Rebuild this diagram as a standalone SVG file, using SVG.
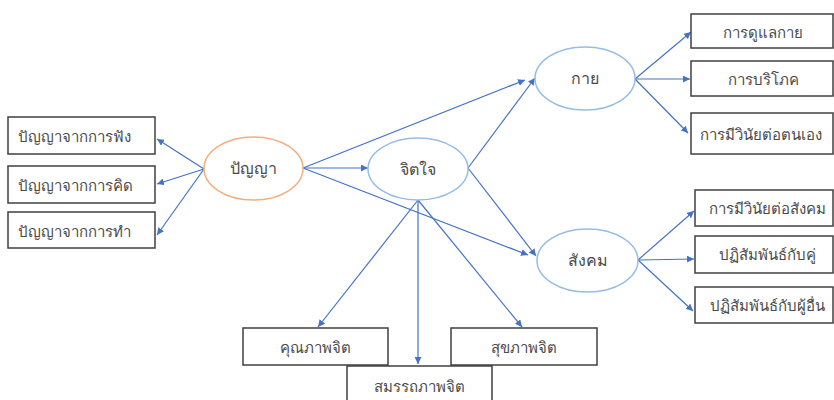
<svg xmlns="http://www.w3.org/2000/svg" width="834" height="400" viewBox="0 0 834 400">
<defs>
<marker id="ah" viewBox="0 0 10 10" refX="10" refY="5" markerWidth="7" markerHeight="7" orient="auto" markerUnits="userSpaceOnUse">
<path d="M0,0 L10,5 L0,10 z" fill="#4472C4"/>
</marker>
</defs>
<style>
text{font-family:"Noto Sans","DejaVu Sans",sans-serif;font-size:15px;fill:#4a4a4a}
.box rect{fill:#fff;stroke:#404040;stroke-width:1.5}
.ob ellipse{fill:#fff;stroke:#95BDE6;stroke-width:1.5}
.oo ellipse{fill:#fff;stroke:#F4AE7C;stroke-width:1.5}
.ob text,.oo text{font-size:16px}
.c{text-anchor:middle}
#conn line{stroke:#4472C4;stroke-width:1.2;marker-end:url(#ah)}
</style>
<rect width="834" height="400" fill="#fff"/>
<g id="conn">
<line x1="204" y1="169" x2="157" y2="139"/>
<line x1="204" y1="169" x2="157" y2="184"/>
<line x1="204" y1="169" x2="157" y2="235"/>
<line x1="303" y1="168" x2="368" y2="168"/>
<line x1="303" y1="168" x2="525" y2="80"/>
<line x1="303" y1="168" x2="528" y2="255"/>
<line x1="468" y1="168" x2="535" y2="78"/>
<line x1="468" y1="168" x2="536" y2="256"/>
<line x1="418" y1="200" x2="318" y2="327"/>
<line x1="418" y1="200" x2="418" y2="364"/>
<line x1="418" y1="200" x2="522" y2="327"/>
<line x1="635" y1="79" x2="691" y2="32"/>
<line x1="635" y1="79" x2="690" y2="79"/>
<line x1="635" y1="79" x2="688" y2="133"/>
<line x1="638" y1="260" x2="694" y2="211"/>
<line x1="638" y1="260" x2="694" y2="259"/>
<line x1="638" y1="260" x2="693" y2="311"/>
</g>
<g id="n-panya" class="oo"><ellipse cx="253.5" cy="168.5" rx="49.5" ry="31.5"/><text class="c" x="253.5" y="174">ปัญญา</text></g>
<g id="n-jitjai" class="ob"><ellipse cx="418" cy="169" rx="50" ry="31"/><text class="c" x="418" y="175">จิตใจ</text></g>
<g id="n-kai" class="ob"><ellipse cx="585" cy="78.5" rx="50" ry="31.5"/><text class="c" x="585" y="84">กาย</text></g>
<g id="n-sangkhom" class="ob"><ellipse cx="587.5" cy="260.5" rx="50.5" ry="31.5"/><text class="c" x="587.5" y="266">สังคม</text></g>
<g id="b-fang" class="box"><rect x="8" y="117" width="147" height="37"/><text x="18" y="142">ปัญญาจากการฟัง</text></g>
<g id="b-khit" class="box"><rect x="8" y="166" width="147" height="37"/><text x="18" y="191">ปัญญาจากการคิด</text></g>
<g id="b-tham" class="box"><rect x="8" y="212" width="147" height="36"/><text x="18" y="237">ปัญญาจากการทำ</text></g>
<g id="b-dulae" class="box"><rect x="691" y="14" width="142" height="34"/><text class="c" x="763" y="38">การดูแลกาย</text></g>
<g id="b-boriphok" class="box"><rect x="691" y="61" width="142" height="35"/><text class="c" x="763" y="85">การบริโภค</text></g>
<g id="b-winai-ton" class="box"><rect x="691" y="113" width="142" height="41"/><text x="700" y="140">การมีวินัยต่อตนเอง</text></g>
<g id="b-winai-sangkhom" class="box"><rect x="695" y="190" width="138" height="36"/><text class="c" x="767" y="214">การมีวินัยต่อสังคม</text></g>
<g id="b-khu" class="box"><rect x="695" y="236" width="138" height="37"/><text class="c" x="767" y="260">ปฏิสัมพันธ์กับคู่</text></g>
<g id="b-phuuen" class="box"><rect x="695" y="287" width="138" height="36"/><text class="c" x="767" y="311">ปฏิสัมพันธ์กับผู้อื่น</text></g>
<g id="b-khunnaphap" class="box"><rect x="243" y="328" width="145" height="37"/><text class="c" x="315.5" y="353">คุณภาพจิต</text></g>
<g id="b-sukkhaphap" class="box"><rect x="451" y="328" width="146" height="37"/><text class="c" x="524" y="353">สุขภาพจิต</text></g>
<g id="b-samatthaphap" class="box"><rect x="347" y="366" width="145" height="40"/><text class="c" x="419.5" y="392">สมรรถภาพจิต</text></g>
</svg>
